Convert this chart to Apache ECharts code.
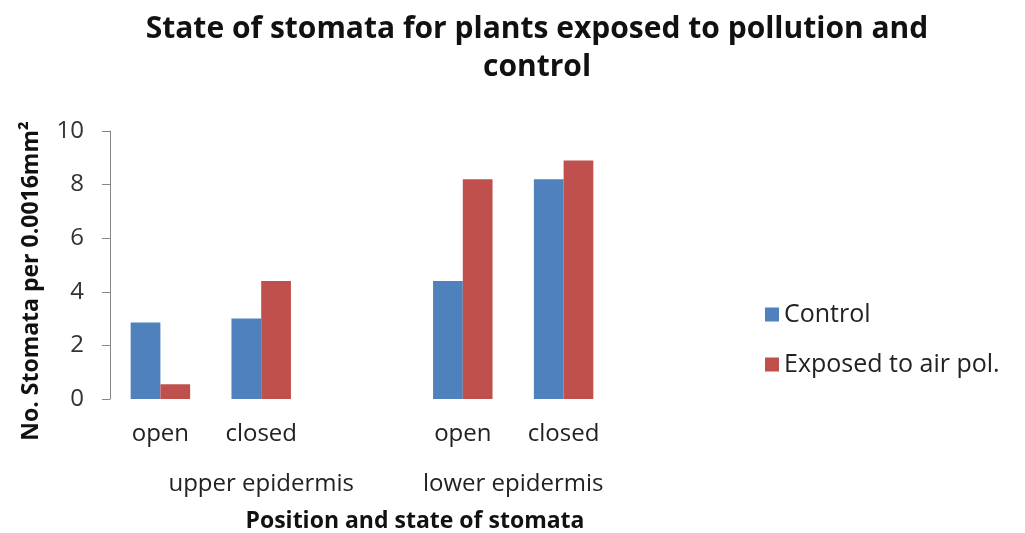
<!DOCTYPE html>
<html>
<head>
<meta charset="utf-8">
<script src="https://cdn.jsdelivr.net/npm/echarts@6/dist/echarts.min.js"></script>
<style>
html,body{margin:0;padding:0;background:#fff;}
#chart{width:1025px;height:533px;}
</style>
</head>
<body>
<div id="chart"></div>
<script>
// ---- data ----
var categories = ['open', 'closed', '', 'open', 'closed'];
var groupLabels = ['upper epidermis', 'lower epidermis'];
var groupSpans = [3, 2];
var controlValues = [2.85, 3.0, null, 4.4, 8.2];
var exposedValues = [0.55, 4.4, null, 8.2, 8.9];
var seriesNames = ['Control', 'Exposed to air pol.'];
var yTicks = [0, 2, 4, 6, 8, 10];
var titleText = 'State of stomata for plants exposed to pollution and\ncontrol';
var xTitle = 'Position and state of stomata';
var yTitle = 'No. Stomata per 0.0016mm\u00B2';

// group centers in category units
var groupCenters = [];
(function () {
  var acc = 0;
  for (var i = 0; i < groupSpans.length; i++) {
    groupCenters.push(acc + groupSpans[i] / 2);
    acc += groupSpans[i];
  }
})();

var FONT = 'Open Sans';
var chart = echarts.init(document.getElementById('chart'));
var option = {
  backgroundColor: '#ffffff',
  animation: false,
  title: {
    text: titleText,
    left: 537,
    textAlign: 'center',
    top: 10,
    padding: 0,
    textStyle: {
      fontFamily: FONT,
      fontWeight: 'bold',
      fontSize: 30,
      lineHeight: 38,
      color: '#111111'
    }
  },
  legend: {
    orient: 'vertical',
    left: 765,
    top: 302,
    padding: 0,
    itemWidth: 14,
    itemHeight: 14,
    itemGap: 25,
    icon: 'rect',
    textStyle: { fontFamily: FONT, fontSize: 25, color: '#222222' },
    data: seriesNames
  },
  grid: { left: 110, right: 411, top: 131, bottom: 134, containLabel: false },
  xAxis: [
    {
      type: 'category',
      data: categories,
      axisLine: { show: false },
      axisTick: { show: false },
      axisLabel: { interval: 0, margin: 23, fontFamily: FONT, fontSize: 24, color: '#222222' }
    },
    {
      type: 'value',
      position: 'bottom',
      min: 0,
      max: categories.length,
      interval: 0.5,
      axisLine: { show: false },
      axisTick: { show: false },
      splitLine: { show: false },
      axisLabel: {
        margin: 73,
        fontFamily: FONT,
        fontSize: 24,
        color: '#222222',
        showMinLabel: true,
        showMaxLabel: true,
        formatter: function (v) {
          for (var i = 0; i < groupCenters.length; i++) {
            if (Math.abs(v - groupCenters[i]) < 1e-6) return groupLabels[i];
          }
          return '';
        }
      }
    }
  ],
  yAxis: {
    type: 'value',
    min: yTicks[0],
    max: yTicks[yTicks.length - 1],
    interval: yTicks[1] - yTicks[0],
    axisLine: { show: true, lineStyle: { color: '#868686', width: 1 } },
    axisTick: { show: true, length: 8, lineStyle: { color: '#868686' } },
    splitLine: { show: false },
    axisLabel: { margin: 26, fontFamily: FONT, fontSize: 24, color: '#333333' }
  },
  series: [
    {
      name: seriesNames[0],
      type: 'bar',
      data: controlValues,
      xAxisIndex: 0,
      barGap: '0%',
      barCategoryGap: '41%',
      itemStyle: { color: '#4F81BD' }
    },
    {
      name: seriesNames[1],
      type: 'bar',
      data: exposedValues,
      xAxisIndex: 0,
      barGap: '0%',
      barCategoryGap: '41%',
      itemStyle: { color: '#C0504D' }
    }
  ],
  graphic: [
    {
      type: 'text',
      x: 415,
      y: 521,
      style: {
        text: xTitle,
        fontFamily: FONT,
        fontWeight: 'bold',
        fontSize: 23,
        fill: '#111111',
        align: 'center',
        verticalAlign: 'middle'
      }
    },
    {
      type: 'text',
      x: 31,
      y: 281,
      rotation: Math.PI / 2,
      style: {
        text: yTitle,
        fontFamily: FONT,
        fontWeight: 'bold',
        fontSize: 23,
        fill: '#111111',
        align: 'center',
        verticalAlign: 'middle'
      }
    }
  ]
};
chart.setOption(option);
</script>
</body>
</html>
